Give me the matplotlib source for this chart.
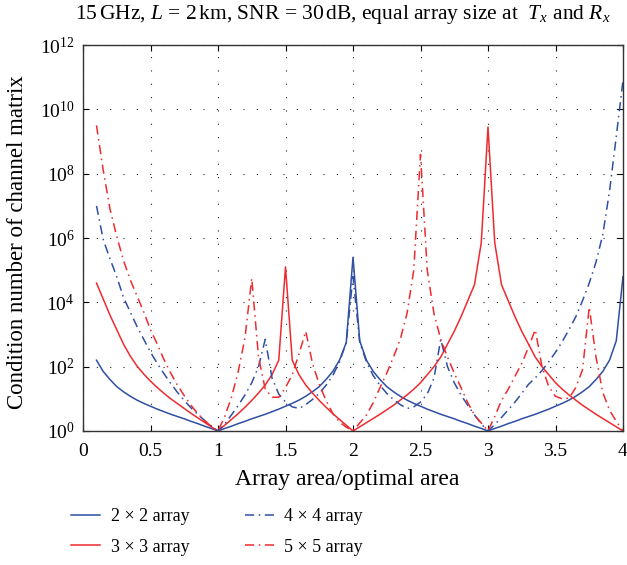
import numpy as np
import matplotlib
matplotlib.use("Agg")
import matplotlib.pyplot as plt

plt.rcParams['font.family'] = ['Liberation Serif', 'DejaVu Serif']
plt.rcParams['mathtext.fontset'] = 'custom'
plt.rcParams['mathtext.rm'] = 'Liberation Serif'
plt.rcParams['mathtext.it'] = 'Liberation Serif:italic'

# array area / optimal area, sampled every 0.05 from 0.1 to 4
area_ratio = np.round(np.arange(0.10, 4.001, 0.05), 2)

# log10 of the condition number
log_cond_2x2 = [2.2, 1.85, 1.6, 1.38, 1.22, 1.08, 0.96, 0.86, 0.77, 0.68,
                0.6, 0.52, 0.45, 0.38, 0.3, 0.23, 0.15, 0.08, 0.0,
                0.08, 0.15, 0.23, 0.3, 0.38, 0.45, 0.52, 0.6, 0.68, 0.77,
                0.86, 0.96, 1.08, 1.22, 1.38, 1.6, 1.85, 2.2, 2.75, 5.4,
                2.8, 2.2, 1.85, 1.6, 1.38, 1.22, 1.08, 0.96, 0.86, 0.77,
                0.68, 0.6, 0.52, 0.45, 0.38, 0.3, 0.23, 0.15, 0.08, 0.0,
                0.08, 0.15, 0.23, 0.3, 0.38, 0.45, 0.52, 0.6, 0.68, 0.77,
                0.86, 0.96, 1.08, 1.22, 1.38, 1.6, 1.85, 2.2, 2.8, 4.8]

log_cond_3x3 = [4.6, 4.1, 3.6, 3.15, 2.7, 2.33, 2.02, 1.77, 1.55, 1.35,
                1.17, 1.0, 0.85, 0.7, 0.55, 0.41, 0.27, 0.13, 0.0,
                0.18, 0.36, 0.54, 0.74, 0.95, 1.18, 1.43, 1.75, 2.2, 5.1,
                2.2, 1.75, 1.43, 1.18, 0.95, 0.74, 0.54, 0.36, 0.18, 0.0,
                0.13, 0.26, 0.39, 0.52, 0.66, 0.8, 0.96, 1.12, 1.3, 1.5,
                1.75, 2.0, 2.3, 2.7, 3.1, 3.55, 4.05, 4.55, 5.85, 9.45,
                5.85, 4.55, 4.05, 3.55, 3.1, 2.7, 2.3, 2.0, 1.75, 1.5,
                1.3, 1.12, 0.96, 0.8, 0.66, 0.52, 0.39, 0.26, 0.13, 0.0]

log_cond_4x4 = [7.0, 5.95, 5.35, 4.8, 4.15, 3.7, 3.25, 2.85, 2.45, 2.1,
                1.78, 1.48, 1.2, 0.95, 0.72, 0.52, 0.33, 0.16, 0.0,
                0.22, 0.5, 0.8, 1.12, 1.5, 2.0, 2.85, 1.65, 1.15, 0.9,
                0.75, 0.7, 0.82, 0.98, 1.17, 1.42, 1.72, 2.15, 2.75, 4.8,
                2.75, 2.15, 1.72, 1.42, 1.17, 0.98, 0.82, 0.7, 0.75, 0.9,
                1.15, 1.65, 2.85, 2.0, 1.5, 1.12, 0.8, 0.5, 0.22, 0.0,
                0.2, 0.42, 0.66, 0.9, 1.17, 1.45, 1.65, 1.88, 2.15, 2.45,
                2.78, 3.15, 3.55, 4.05, 4.6, 5.25, 6.1, 7.45, 9.15, 10.9]

log_cond_5x5 = [9.5, 8.1, 6.9, 6.05, 5.3, 4.7, 4.2, 3.7, 3.15, 2.7,
                2.22, 1.8, 1.42, 1.1, 0.8, 0.54, 0.32, 0.15, 0.0,
                0.45, 1.05, 1.85, 2.9, 4.75, 2.3, 1.3, 1.05, 1.05, 1.35,
                1.75, 2.4, 3.1, 2.1, 1.45, 0.95, 0.55, 0.28, 0.12, 0.0,
                0.25, 0.5, 0.88, 1.35, 1.8, 2.3, 2.85, 3.65, 5.0, 8.6,
                5.0, 3.65, 2.85, 2.3, 1.8, 1.35, 0.88, 0.5, 0.25, 0.0,
                0.45, 0.95, 1.3, 1.7, 2.1, 2.6, 3.15, 2.0, 1.38, 1.08,
                1.0, 1.02, 1.35, 1.9, 3.85, 2.3, 1.2, 0.65, 0.3, 0.0]

labels = ['2 \u00d7 2 array', '3 \u00d7 3 array', '4 \u00d7 4 array', '5 \u00d7 5 array']

blue = '#2f4fa3'
red = '#ee2b2f'
dashdot = (0, (6, 3, 1, 3))

fig = plt.figure(figsize=(6.27, 5.65), dpi=100)
ax = fig.add_axes([83 / 627, 1 - 431 / 565, 540 / 627, 386 / 565])

series = [log_cond_2x2, log_cond_3x3, log_cond_4x4, log_cond_5x5]
colors = [blue, red, blue, red]
styles = ['-', '-', dashdot, dashdot]
for vals, c, ls, lab in zip(series, colors, styles, labels):
    ax.plot(area_ratio, 10.0 ** np.array(vals), color=c, linestyle=ls, lw=1.1, label=lab)

ax.set_yscale('log')
ax.set_xlim(0, 4)
ax.set_ylim(1, 1e12)
ax.set_xticks(np.arange(0, 4.01, 0.5))
ax.set_xticklabels(['0', '0.5', '1', '1.5', '2', '2.5', '3', '3.5', '4'])
ax.set_yticks([10.0 ** k for k in range(0, 13, 2)])
ax.yaxis.set_minor_locator(matplotlib.ticker.NullLocator())
ax.tick_params(direction='in', length=4, top=True, right=True, labelsize=14, pad=6)
ax.tick_params(axis='x', pad=9)
ax.grid(True, color='#222222', linestyle=(0, (1, 11)), lw=0.8)
for s in ax.spines.values():
    s.set_linewidth(1.0)
    s.set_color('#333333')

fig.text(347 / 627, 1 - 480 / 565, 'Array area/optimal area', fontsize=17,
         ha='center', va='center')
fig.text(18 / 627, 1 - 242 / 565, 'Condition number of channel matrix', fontsize=16.5,
         ha='center', va='center', rotation=90)
fig.text(343 / 627, 1 - 14 / 565,
         r'15$\,$GHz, $L$ = 2$\,$km, SNR = 30$\,$dB, equal array size at  $T_x$ and $R_x$',
         fontsize=15.5, ha='center', va='center')

fig.legend(loc='upper left', bbox_to_anchor=(55 / 627, 1 - 492 / 565), ncol=2,
           frameon=False, fontsize=13, handlelength=1.6, handletextpad=0.6,
           columnspacing=3.05, labelspacing=0.75)

fig.savefig('out.png', dpi=100)
